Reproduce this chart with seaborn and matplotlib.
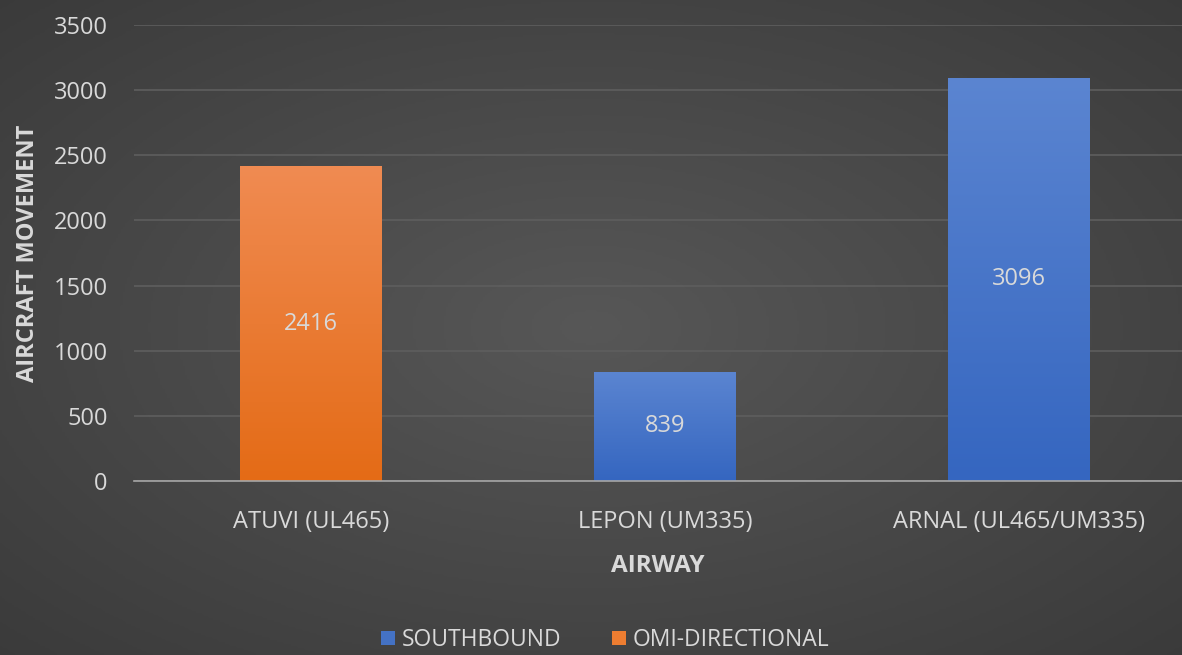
import numpy as np
import pandas as pd
import matplotlib
matplotlib.use("Agg")
import matplotlib.pyplot as plt
import seaborn as sns
from matplotlib.colors import LinearSegmentedColormap

# Datos del gráfico
airways = ["ATUVI (UL465)", "LEPON (UM335)", "ARNAL (UL465/UM335)"]
movements = [2416, 839, 3096]
directions = ["OMI-DIRECTIONAL", "SOUTHBOUND", "SOUTHBOUND"]
hue_order = ["SOUTHBOUND", "OMI-DIRECTIONAL"]
y_ticks = [0, 500, 1000, 1500, 2000, 2500, 3000, 3500]

colors = {"SOUTHBOUND": "#4472c4", "OMI-DIRECTIONAL": "#ed7d31"}
gradients = {
    "SOUTHBOUND": ("#5b85d1", "#3566c0"),
    "OMI-DIRECTIONAL": ("#f08b52", "#e46b16"),
}
text_color = "#d9d9d9"

df = pd.DataFrame({"airway": airways, "movement": movements, "direction": directions})

sns.set_theme(style="dark")
plt.rcParams["font.family"] = ["Open Sans", "DejaVu Sans"]

fig = plt.figure(figsize=(11.82, 6.55), dpi=100)

# Fondo con degradado radial (más claro en el centro)
bg = fig.add_axes([0, 0, 1, 1], zorder=-10)
yy, xx = np.mgrid[-1:1:300j, -1:1:500j]
r = np.sqrt(xx ** 2 + yy ** 2)
bg_cmap = LinearSegmentedColormap.from_list("bg", ["#575757", "#3a3a3a"])
bg.imshow(r, cmap=bg_cmap, aspect="auto", extent=[0, 1, 0, 1], vmin=0, vmax=1.45)
bg.axis("off")

ax = fig.add_axes([134 / 1182, 1 - 481 / 655, (1182 - 134) / 1182, 456 / 655])
ax.patch.set_alpha(0)

sns.barplot(
    data=df, x="airway", y="movement", hue="direction",
    hue_order=hue_order, palette=colors, dodge=False,
    width=0.4, linewidth=0, saturation=1, ax=ax, legend=True,
)

# Degradado vertical dentro de cada barra + etiqueta del valor
bars = [p for p in ax.patches if p.get_height() > 0]
for patch in bars:
    x0, y0 = patch.get_x(), patch.get_y()
    w, h = patch.get_width(), patch.get_height()
    fc = patch.get_facecolor()
    key = "SOUTHBOUND" if fc[2] > fc[0] else "OMI-DIRECTIONAL"
    top, bottom = gradients[key]
    cmap = LinearSegmentedColormap.from_list("g", [bottom, top])
    grad = np.linspace(0, 1, 256).reshape(-1, 1)
    im = ax.imshow(grad, cmap=cmap, aspect="auto", origin="lower",
                   extent=[x0, x0 + w, y0, y0 + h], zorder=patch.get_zorder() + 0.1)
    im.set_clip_path(patch)
    ax.text(x0 + w / 2, y0 + h / 2, f"{int(round(h))}", ha="center", va="center",
            color=text_color, fontsize=17, zorder=5)

ax.set_xlim(-0.5, 2.46)
ax.set_ylim(0, 3500)
ax.set_yticks(y_ticks)
ax.yaxis.grid(True, color="#5e5e5e", linewidth=1.2)
ax.xaxis.grid(False)
ax.set_axisbelow(True)
for side in ["top", "right", "left"]:
    ax.spines[side].set_visible(False)
ax.spines["bottom"].set_color("#a6a6a6")
ax.spines["bottom"].set_linewidth(1.2)

ax.tick_params(axis="both", colors=text_color, labelsize=17, length=0)
ax.tick_params(axis="y", pad=19)
ax.tick_params(axis="x", pad=21)

ax.set_xlabel("AIRWAY", color=text_color, fontsize=17.5, fontweight="bold", labelpad=14)
ax.set_ylabel("AIRCRAFT MOVEMENT", color=text_color, fontsize=17, fontweight="bold")
ax.yaxis.set_label_coords(-0.090, 0.5)

handles, labels = ax.get_legend_handles_labels()
ax.legend_.remove()
fig.legend(handles, labels, loc="center", bbox_to_anchor=(0.512, 1 - 640 / 655),
           ncol=2, frameon=False, fontsize=16.5, labelcolor=text_color,
           handlelength=0.6, handleheight=0.6, handletextpad=0.3, columnspacing=2.2)

fig.savefig("out.png", dpi=100, facecolor=fig.get_facecolor())
